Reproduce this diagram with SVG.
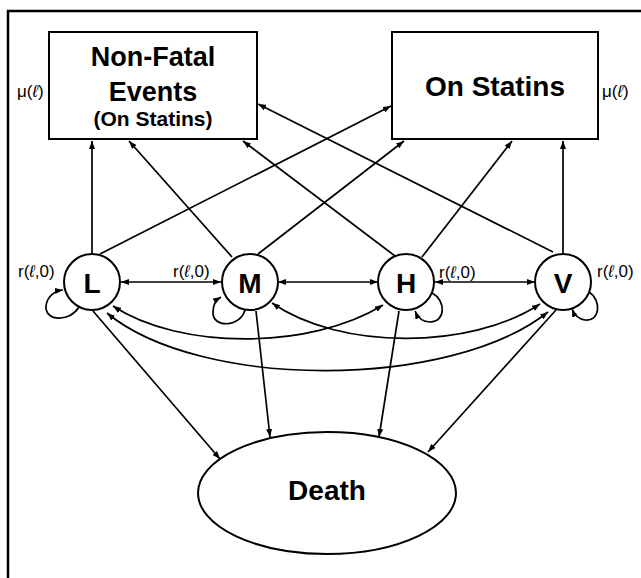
<svg xmlns="http://www.w3.org/2000/svg" width="641" height="578" viewBox="0 0 641 578">
<style>
.box{fill:#fff;stroke:#000;stroke-width:2}
.t{font-family:"Liberation Sans",Arial,sans-serif;font-weight:bold;fill:#000;text-anchor:middle}
.lab{font-family:"Liberation Sans",Arial,sans-serif;font-size:17px;fill:#000}
.c{fill:none;stroke:#000;stroke-width:1.7}
</style>
<defs>
<marker id="ah" viewBox="0 0 8 6" refX="8" refY="3" markerWidth="8" markerHeight="6" markerUnits="userSpaceOnUse" orient="auto-start-reverse">
<path d="M0,0 L8,3 L0,6 z" fill="#000"/>
</marker>
</defs>
<rect width="641" height="578" fill="#fff"/>
<path d="M8,578 L8,11 L641,11" fill="none" stroke="#000" stroke-width="2.5"/>

<g id="connectors">
<!-- to Non-Fatal -->
<line class="c" x1="92" y1="254" x2="92" y2="141" marker-end="url(#ah)"/>
<line class="c" x1="232" y1="257" x2="129" y2="141" marker-end="url(#ah)"/>
<line class="c" x1="395" y1="256" x2="243" y2="141" marker-end="url(#ah)"/>
<line class="c" x1="553" y1="252" x2="258" y2="104" marker-end="url(#ah)"/>
<!-- to On Statins -->
<line class="c" x1="100" y1="254" x2="391" y2="106" marker-end="url(#ah)"/>
<line class="c" x1="258" y1="254" x2="404" y2="141" marker-end="url(#ah)"/>
<line class="c" x1="422" y1="257" x2="512" y2="141" marker-end="url(#ah)"/>
<line class="c" x1="563" y1="253" x2="563" y2="141" marker-end="url(#ah)"/>
<!-- horizontal -->
<line class="c" x1="121" y1="282" x2="221" y2="282" marker-start="url(#ah)" marker-end="url(#ah)"/>
<line class="c" x1="278" y1="282" x2="378" y2="282" marker-start="url(#ah)" marker-end="url(#ah)"/>
<line class="c" x1="435" y1="282" x2="535" y2="282" marker-start="url(#ah)" marker-end="url(#ah)"/>
<!-- curves -->
<path class="c" d="M113,306 C180,350 310,350 383,305" marker-start="url(#ah)" marker-end="url(#ah)"/>
<path class="c" d="M272,303 C340,350 470,350 540,304" marker-start="url(#ah)" marker-end="url(#ah)"/>
<path class="c" d="M107,313 C200,390 450,390 548,312" marker-start="url(#ah)" marker-end="url(#ah)"/>
<!-- self loops -->
<path class="c" d="M79,307 C70,322 45,322 46,306 C47,296 55,291 63,290" marker-end="url(#ah)"/>
<path class="c" d="M245,310 C240,328 212,328 213,312 C213,304 216,300 221,297" marker-end="url(#ah)"/>
<path class="c" d="M432,293 C446,300 446,322 430,322 C422,322 418,318 415,311" marker-end="url(#ah)"/>
<path class="c" d="M589,292 C602,300 600,322 585,320 C578,319 574,314 572,309" marker-end="url(#ah)"/>
<!-- to Death -->
<line class="c" x1="93" y1="311" x2="220" y2="459" marker-end="url(#ah)"/>
<line class="c" x1="256" y1="311" x2="270" y2="437" marker-end="url(#ah)"/>
<line class="c" x1="399" y1="311" x2="379" y2="437" marker-end="url(#ah)"/>
<line class="c" x1="556" y1="310" x2="428" y2="452" marker-end="url(#ah)"/>
</g>

<g id="nonfatal">
<rect class="box" x="49" y="32" width="208" height="107"/>
<text class="t" x="153" y="66" font-size="27">Non-Fatal</text>
<text class="t" x="153" y="101" font-size="27">Events</text>
<text class="t" x="153" y="126" font-size="21">(On Statins)</text>
</g>
<g id="onstatins">
<rect class="box" x="392" y="32" width="206" height="107"/>
<text class="t" x="495" y="96" font-size="28">On Statins</text>
</g>
<g id="L">
<circle class="box" cx="92" cy="282" r="28"/>
<text class="t" x="92" y="293" font-size="28">L</text>
</g>
<g id="M">
<circle class="box" cx="250" cy="282" r="28"/>
<text class="t" x="250" y="293" font-size="28">M</text>
</g>
<g id="H">
<circle class="box" cx="406" cy="282" r="28"/>
<text class="t" x="406" y="293" font-size="28">H</text>
</g>
<g id="V">
<circle class="box" cx="563" cy="282" r="28"/>
<text class="t" x="563" y="293" font-size="28">V</text>
</g>
<g id="death">
<ellipse class="box" cx="327" cy="493" rx="129" ry="61"/>
<text class="t" x="327" y="500" font-size="28">Death</text>
</g>
<g id="labels">
<text class="lab" x="17" y="97">μ(<tspan font-style="italic">ℓ</tspan>)</text>
<text class="lab" x="602" y="97">μ(<tspan font-style="italic">ℓ</tspan>)</text>
<text class="lab" x="18" y="277">r(<tspan font-style="italic">ℓ</tspan>,0)</text>
<text class="lab" x="173" y="277">r(<tspan font-style="italic">ℓ</tspan>,0)</text>
<text class="lab" x="439" y="278">r(<tspan font-style="italic">ℓ</tspan>,0)</text>
<text class="lab" x="597" y="277">r(<tspan font-style="italic">ℓ</tspan>,0)</text>
</g>
</svg>
